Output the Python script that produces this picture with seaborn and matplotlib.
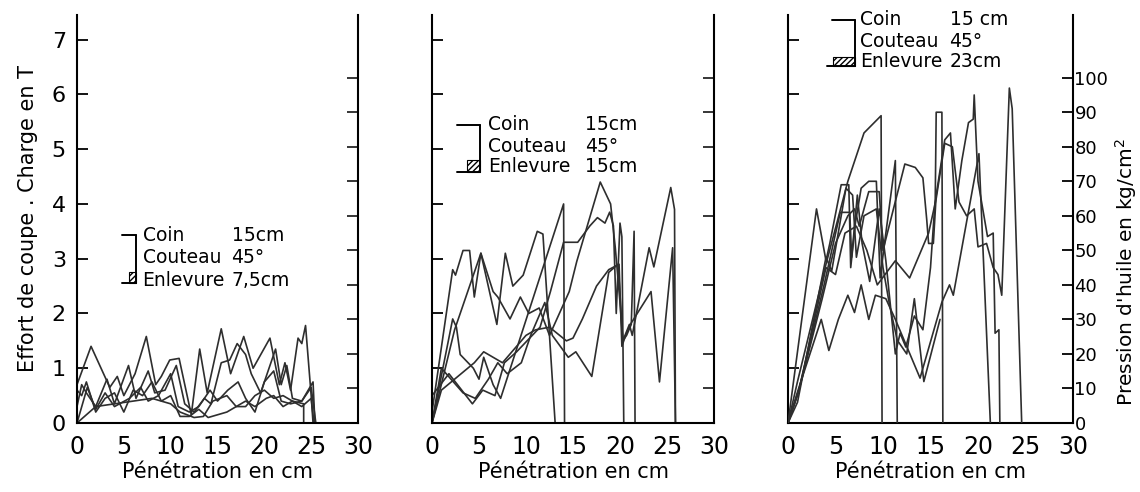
import pandas as pd
import matplotlib
matplotlib.use("Agg")
import matplotlib.pyplot as plt
import seaborn as sns
from matplotlib.patches import Rectangle

sns.set_theme(style="white")
plt.rcParams['font.family'] = ['DejaVu Sans']
plt.rcParams['text.color'] = 'black'
plt.rcParams['axes.labelcolor'] = 'black'

# ---------------------------------------------------------------
# scales
# ---------------------------------------------------------------
x_ticks = [0, 5, 10, 15, 20, 25, 30]
t_ticks = [0, 1, 2, 3, 4, 5, 6, 7]
p_ticks = [0, 10, 20, 30, 40, 50, 60, 70, 80, 90, 100]
T_TOP = 7.45        # top of the left scale (T)
P_PER_T = 15.86     # 1 T on the left scale = 15.86 kg/cm2 on the right one

# ---------------------------------------------------------------
# panel 1 : Enlevure 7,5 cm  (effort in T vs penetration in cm)
# ---------------------------------------------------------------
p1_run1 = [(0, 0.7), (1.5, 1.4), (3.5, 0.65), (4.3, 0.85), (5.0, 0.5), (6.2, 0.9),
           (7.4, 1.58), (8.4, 0.7), (9.0, 0.85), (9.9, 1.15), (10.9, 1.18), (12.2, 0.15),
           (13.1, 1.35), (13.9, 0.55), (15.4, 1.72), (16.4, 0.9), (17.8, 1.58), (18.8, 1.0),
           (20.6, 1.55), (21.6, 0.7), (22.2, 1.1), (22.8, 0.6), (23.6, 1.55), (24.0, 1.45),
           (24.4, 1.78), (25.0, 0.5), (25.2, 0)]
p1_run2 = [(0, 0.3), (0.5, 0.7), (1.0, 0.55), (2.0, 0.3), (3.2, 0.8), (4.0, 0.35),
           (5.5, 1.05), (6.3, 0.45), (7.6, 0.95), (8.3, 0.55), (9.4, 0.6), (10.6, 1.05),
           (11.5, 0.35), (12.5, 0.2), (13.6, 0.45), (14.3, 0.35), (15.4, 1.1), (16.3, 1.15),
           (17.1, 1.45), (18.0, 1.25), (18.6, 0.9), (19.6, 0.55), (20.4, 0.95), (21.2, 1.35),
           (21.8, 0.7), (22.4, 1.05), (23.0, 0.45), (24.0, 0.4), (25.2, 0.75), (25.4, 0)]
p1_run3 = [(0, 0), (1.1, 0.65), (2.0, 0.25), (3.0, 0.55), (4.0, 0.3), (5.6, 0.45),
           (6.8, 0.65), (7.6, 0.4), (8.7, 0.5), (10.0, 0.9), (10.8, 0.3), (12.0, 0.2),
           (13.0, 0.3), (14.2, 0.6), (15.0, 0.4), (16.1, 0.6), (17.2, 0.75), (18.0, 0.45),
           (19.0, 0.2), (20.0, 0.75), (21.0, 0.95), (21.8, 0.4), (22.8, 0.35), (24.0, 0.4),
           (25.0, 0.65), (25.5, 0)]
p1_run4 = [(0, 0), (2.0, 0.3), (4.0, 0.35), (6.0, 0.4), (8.0, 0.45), (10.0, 0.35),
           (11.0, 0.2), (12.5, 0.1), (13.5, 0.12), (14.5, 0.4), (16.0, 0.5), (17.0, 0.3),
           (18.0, 0.4), (19.0, 0.3), (20.2, 0.45), (21.0, 0.5), (22.0, 0.3), (23.0, 0.4),
           (24.2, 0.35), (24.2, 0)]
p1_run5 = [(0, 0.6), (0.5, 0.5), (1.0, 0.75), (2.0, 0.2), (3.0, 0.45), (4.0, 0.55),
           (5.0, 0.2), (6.0, 0.6), (7.0, 0.5), (8.0, 0.75), (9.0, 0.4), (10.0, 0.5),
           (11.0, 0.12), (12.0, 0.12), (13.0, 0.25), (14.0, 0.1), (15.0, 0.15), (16.0, 0.2),
           (17.0, 0.3), (18.0, 0.3), (19.0, 0.5), (20.0, 0.6), (21.0, 0.45), (22.0, 0.5),
           (23.0, 0.4), (24.0, 0.3), (25.0, 0.45), (25.3, 0)]

# ---------------------------------------------------------------
# panel 2 : Enlevure 15 cm  (T)
# ---------------------------------------------------------------
p2_run1 = [(0, 0.2), (2.2, 2.8), (2.5, 2.7), (3.3, 3.15), (4.0, 3.15), (4.5, 2.3),
           (5.2, 3.1), (6.9, 1.8), (7.8, 3.1), (8.6, 2.5), (9.7, 2.7), (11.2, 3.5),
           (11.8, 3.45), (13.1, 0)]
p2_run2 = [(0, 0), (2.2, 1.9), (2.6, 1.75), (3.0, 1.25), (4.4, 1.0), (5.0, 0.8),
           (5.5, 1.2), (6.5, 0.7), (7.3, 0.45), (14.0, 4.0), (14.1, 0)]
p2_run3 = [(0, 0), (2.4, 1.7), (5.2, 3.1), (6.5, 2.4), (7.0, 2.3), (8.3, 1.9),
           (9.4, 2.3), (10.3, 2.0), (11.4, 2.1), (12.5, 1.6), (14.6, 2.4), (15.4, 2.95),
           (17.9, 4.4), (19.0, 4.0), (19.5, 3.2), (20.0, 2.2), (20.3, 1.5), (20.7, 1.6),
           (21.2, 1.8), (21.5, 3.5), (21.6, 0)]
p2_run4 = [(0, 0.5), (1.8, 0.9), (4.3, 0.35), (5.4, 0.6), (6.7, 0.5), (7.7, 1.1),
           (9.0, 1.3), (11.5, 1.75), (12.6, 2.4), (14.0, 3.3), (15.5, 3.3), (16.8, 3.6),
           (17.6, 3.75), (18.4, 3.65), (18.9, 3.85), (19.3, 3.6), (19.6, 2.0), (20.0, 3.65),
           (20.2, 3.4), (20.4, 0)]
p2_run5 = [(0, 0), (1.0, 1.0), (3.3, 0.55), (4.6, 0.45), (6.0, 0.8), (7.0, 1.1),
           (8.0, 0.9), (9.5, 1.1), (10.5, 1.6), (12.0, 2.2), (12.8, 1.6), (14.5, 1.2),
           (15.3, 1.3), (17.0, 0.85), (18.8, 2.75), (19.8, 2.9), (20.3, 1.5), (21.0, 1.8),
           (21.3, 1.6), (23.1, 3.2), (23.6, 2.85), (25.4, 4.3), (25.8, 3.9), (25.9, 0)]
p2_run6 = [(0, 0), (1.0, 0.6), (4.5, 1.1), (5.5, 1.3), (7.5, 1.1), (9.0, 1.4),
           (10.0, 1.6), (11.0, 1.7), (12.5, 1.75), (14.3, 1.5), (15.0, 1.55), (16.0, 1.9),
           (17.5, 2.5), (18.8, 2.8), (19.9, 2.9), (20.2, 1.4), (20.6, 1.6), (21.1, 1.8),
           (23.3, 2.4), (24.2, 0.75), (25.6, 3.2), (25.9, 0)]

# ---------------------------------------------------------------
# panel 3 : Enlevure 23 cm  (oil pressure in kg/cm2, right scale)
# ---------------------------------------------------------------
p3_run1 = [(0, 0), (1.0, 12), (4.0, 46), (6.3, 70), (8.0, 84), (9.8, 89), (9.9, 0)]
p3_run2 = [(0, 0), (3.0, 62), (4.0, 47), (4.4, 52), (5.6, 69), (6.4, 69), (6.6, 45),
           (7.1, 58), (7.7, 68), (8.5, 70), (9.3, 70), (9.7, 42), (10.3, 55), (11.3, 76),
           (11.5, 0)]
p3_run3 = [(0, 0), (1.0, 8), (3.8, 40), (5.5, 61), (6.5, 61), (6.7, 48), (7.3, 66),
           (7.8, 52), (8.6, 41), (9.6, 62), (10.3, 47), (11.3, 20), (11.8, 26), (12.4, 22),
           (13.3, 31), (14.2, 27), (15.0, 45), (15.5, 65), (15.6, 90), (16.2, 90), (16.3, 0)]
p3_run4 = [(0, 0), (1.2, 10), (3.6, 36), (5.0, 52), (6.3, 60), (7.0, 62), (7.5, 57),
           (8.5, 67), (9.6, 67), (10.0, 50), (11.1, 62), (12.3, 75), (13.4, 74), (14.2, 71),
           (14.6, 59), (14.8, 52), (15.3, 52), (15.6, 66), (16.5, 82), (17.1, 84), (17.6, 62),
           (18.3, 76), (19.0, 87), (19.5, 88), (19.6, 95), (20.0, 70), (21.0, 54), (21.6, 55),
           (21.8, 26), (22.2, 27), (22.3, 0)]
p3_run5 = [(0, 0), (1.0, 9), (3.5, 30), (4.3, 21), (5.3, 30), (6.3, 37), (7.0, 32),
           (7.7, 40), (8.5, 30), (9.2, 37), (10.3, 36), (11.3, 30), (13.9, 13), (16.2, 35),
           (17.0, 40), (17.4, 37), (20.1, 78), (21.3, 0)]
p3_run6 = [(0, 0), (1.2, 10), (4.0, 45), (5.0, 43), (6.0, 55), (7.2, 57), (8.3, 50),
           (9.4, 40), (11.3, 47), (12.8, 42), (14.8, 55), (15.6, 65), (16.5, 81), (17.3, 80),
           (18.0, 64), (18.8, 60), (19.6, 62), (20.0, 51), (20.9, 52), (21.6, 45), (22.1, 43),
           (22.5, 37), (23.3, 97), (23.6, 91), (24.6, 0)]
p3_run7 = [(0, 0), (1.0, 6), (4.0, 48), (4.6, 44), (6.1, 68), (6.8, 66), (7.2, 48),
           (8.0, 60), (9.3, 62), (10.0, 45), (10.7, 34), (11.5, 24), (12.5, 20), (13.3, 36),
           (14.3, 12), (16.0, 30)]

p1_runs = [p1_run1, p1_run2, p1_run3, p1_run4, p1_run5]
p2_runs = [p2_run1, p2_run2, p2_run3, p2_run4, p2_run5, p2_run6]
p3_runs = [p3_run1, p3_run2, p3_run3, p3_run4, p3_run5, p3_run6, p3_run7]

key_labels = ["Coin", "Couteau", "Enlevure"]
key_values = [("15cm", "45°", "7,5cm"), ("15cm", "45°", "15cm"), ("15 cm", "45°", "23cm")]


def to_frame(runs):
    rows = [(i, x, y) for i, run in enumerate(runs) for x, y in run]
    return pd.DataFrame(rows, columns=["run", "x", "y"])


def draw_key(ax, top, bot, x_top, x_bot, x_vert, hatch_x, hatch_top, tx1, tx2, tys, values):
    k = dict(color="black", lw=1.4)
    ax.plot([x_top, x_vert], [top, top], **k)
    ax.plot([x_vert, x_vert], [top, bot], **k)
    ax.plot([x_bot, x_vert], [bot, bot], **k)
    ax.add_patch(Rectangle((hatch_x, bot), x_vert - hatch_x, hatch_top - bot,
                           facecolor="white", edgecolor="black", hatch="//////", lw=0.8))
    for lab, val, ty in zip(key_labels, values, tys):
        ax.text(tx1, ty, lab, fontsize=13.5, va="center", ha="left")
        ax.text(tx2, ty, val, fontsize=13.5, va="center", ha="left")


fig = plt.figure(figsize=(11.4, 4.92), dpi=100)
lefts = [77 / 1140, 432 / 1140, 788 / 1140]
widths = [281 / 1140, 282 / 1140, 285 / 1140]
bottom, height = 69 / 492, 408 / 492

axes = []
for i in range(3):
    ax = fig.add_axes([lefts[i], bottom, widths[i], height])
    axr = ax.twinx()
    axes.append((ax, axr))

line_kw = dict(x="x", y="y", units="run", estimator=None, sort=False,
               color="#2e2e2e", linewidth=1.2)
sns.lineplot(data=to_frame(p1_runs), ax=axes[0][0], **line_kw)
sns.lineplot(data=to_frame(p2_runs), ax=axes[1][0], **line_kw)
sns.lineplot(data=to_frame(p3_runs), ax=axes[2][1], **line_kw)

for i, (ax, axr) in enumerate(axes):
    ax.set_xlim(0, 30)
    ax.set_ylim(0, T_TOP)
    axr.set_ylim(0, T_TOP * P_PER_T)
    ax.set_xticks(x_ticks)
    ax.set_yticks(t_ticks)
    for a in (ax, axr):
        a.spines["top"].set_visible(False)
        for s in a.spines.values():
            s.set_linewidth(1.5)
            s.set_color("black")
    ax.spines["right"].set_visible(False)
    axr.spines["left"].set_visible(False)
    axr.spines["bottom"].set_visible(False)
    ax.tick_params(axis="x", direction="in", length=7, width=1.3, pad=9,
                   labelsize=17, colors="black")
    ax.tick_params(axis="y", direction="in", length=8, width=1.3, pad=8,
                   labelsize=16, colors="black", labelleft=(i == 0))
    ax.set_xlabel("Pénétration en cm", fontsize=15, labelpad=2)
    ax.set_ylabel("")
    axr.set_xlabel("")
    axr.set_ylabel("")
    if i == 2:
        axr.set_yticks(p_ticks)
        axr.tick_params(axis="y", direction="in", length=8, width=1.3, pad=1,
                        labelsize=13, colors="black")
        axr.set_ylabel("Pression d'huile en kg/cm$^2$", fontsize=14.5)
        axr.yaxis.set_label_coords(1.14, 0.37)
    else:
        axr.set_yticks(p_ticks[1:])
        axr.tick_params(axis="y", direction="in", length=8, width=1.3, labelright=False)

axes[0][0].set_ylabel("Effort de coupe . Charge en T", fontsize=15, labelpad=10)

draw_key(axes[0][0], 3.43, 2.56, 4.8, 4.8, 6.3, 5.6, 2.76, 7.0, 16.5,
         [3.43, 3.02, 2.6], key_values[0])
draw_key(axes[1][0], 5.45, 4.59, 2.7, 2.7, 5.1, 3.7, 4.81, 6.0, 16.3,
         [5.45, 5.05, 4.68], key_values[1])
draw_key(axes[2][0], 7.35, 6.51, 4.6, 4.1, 7.05, 4.7, 6.69, 7.6, 17.0,
         [7.36, 6.97, 6.6], key_values[2])

fig.savefig("out.png", dpi=100, facecolor="white")
